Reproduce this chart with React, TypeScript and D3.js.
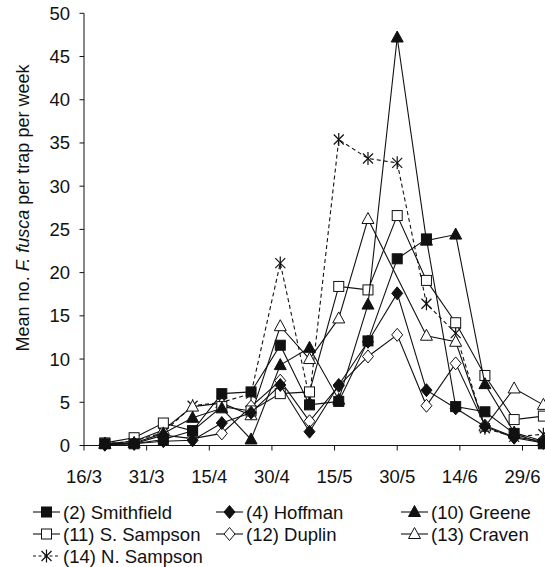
import React from 'react';
import * as d3 from 'd3';

const YEAR = 2003;
const sampleDates = ["21/3", "28/3", "4/4", "11/4", "18/4", "25/4", "2/5", "9/5", "16/5", "23/5", "30/5", "6/6", "13/6", "20/6", "27/6", "4/7"];
const tickLabels = ["16/3", "31/3", "15/4", "30/4", "15/5", "30/5", "14/6", "29/6"];
const yTicks = [0, 5, 10, 15, 20, 25, 30, 35, 40, 45, 50];

const smithfield = [0.2, 0.2, 0.7, 1.7, 6.0, 6.2, 11.6, 4.7, 5.1, 12.1, 21.6, 23.9, 4.5, 3.9, 1.4, 0.2];
const hoffman = [0.1, 0.2, 0.5, 0.6, 2.6, 3.8, 7.0, 1.6, 7.0, 12.0, 17.6, 6.4, 4.3, 2.2, 0.9, 0.3];
const greene = [0.2, 0.3, 1.4, 3.2, 4.3, 0.7, 9.3, 11.3, 5.3, 16.3, 47.2, 23.7, 24.4, 7.1, 1.5, 0.5];
const sSampson = [0.3, 0.9, 2.6, 1.7, 4.5, 4.0, 6.0, 6.2, 18.4, 18.0, 26.6, 19.1, 14.2, 8.1, 3.0, 3.4];
const duplin = [0.1, 0.2, 1.2, 0.8, 1.4, 4.5, 7.5, 2.8, 6.9, 10.3, 12.8, 4.6, 9.5, 2.3, 1.0, 0.5];
const craven = [0.2, 0.5, 1.8, 4.5, 4.9, 3.5, 13.8, 10.0, 14.7, 26.2, null, 12.7, 12.0, 2.2, 6.6, 4.7];
const nSampson = [0.2, 0.5, 1.5, 4.6, 5.0, 6.0, 21.1, 5.5, 35.4, 33.2, 32.7, 16.4, 13.0, 2.0, 1.0, 1.3];

type Marker = 'square' | 'diamond' | 'triangle' | 'star';
interface Series { name: string; values: (number | null)[]; marker: Marker; filled: boolean; dashed: boolean; }

const series: Series[] = [
  { name: "(2) Smithfield", values: smithfield, marker: 'square', filled: true, dashed: false },
  { name: "(4) Hoffman", values: hoffman, marker: 'diamond', filled: true, dashed: false },
  { name: "(10) Greene", values: greene, marker: 'triangle', filled: true, dashed: false },
  { name: "(11) S. Sampson", values: sSampson, marker: 'square', filled: false, dashed: false },
  { name: "(12) Duplin", values: duplin, marker: 'diamond', filled: false, dashed: false },
  { name: "(13) Craven", values: craven, marker: 'triangle', filled: false, dashed: false },
  { name: "(14) N. Sampson", values: nSampson, marker: 'star', filled: false, dashed: true },
];

const parse = (s: string) => {
  const [d, m] = s.split('/').map(Number);
  return new Date(Date.UTC(YEAR, m - 1, d));
};

const FONT = "'Liberation Sans', Arial, Helvetica, sans-serif";

function MarkerShape({ type, filled, cx, cy }: { type: Marker; filled: boolean; cx: number; cy: number }) {
  const fill = filled ? '#111' : '#fff';
  const stroke = '#111';
  if (type === 'square') {
    return <rect x={cx - 5} y={cy - 5} width={10} height={10} fill={fill} stroke={stroke} strokeWidth={1} />;
  }
  if (type === 'diamond') {
    const pts = `${cx},${cy - 6.5} ${cx + 5.5},${cy} ${cx},${cy + 6.5} ${cx - 5.5},${cy}`;
    return <polygon points={pts} fill={fill} stroke={stroke} strokeWidth={1} />;
  }
  if (type === 'triangle') {
    const pts = `${cx},${cy - 6.5} ${cx + 6},${cy + 4.5} ${cx - 6},${cy + 4.5}`;
    return <polygon points={pts} fill={fill} stroke={stroke} strokeWidth={1} />;
  }
  return (
    <g stroke={stroke} strokeWidth={1.2}>
      <line x1={cx - 5} y1={cy - 5} x2={cx + 5} y2={cy + 5} />
      <line x1={cx - 5} y1={cy + 5} x2={cx + 5} y2={cy - 5} />
      <line x1={cx} y1={cy - 6.5} x2={cx} y2={cy + 6.5} />
    </g>
  );
}

export default function App() {
  const W = 545, H = 567;
  const x = d3.scaleUtc().domain([parse("16/3"), parse("29/6")]).range([84, 522.5]);
  const y = d3.scaleLinear().domain([0, 50]).range([445.5, 13.3]);
  const dates = sampleDates.map(parse);

  const lineGen = d3.line<{ d: Date; v: number }>().x(p => x(p.d)).y(p => y(p.v));

  const drawOrder = [...series].reverse();

  const legendCols = [33, 216, 401];
  const legendRows = [512, 534, 556];

  return (
    <svg width={W} height={H} style={{ position: 'absolute', left: 0, top: 0, background: '#fff' }} fontFamily={FONT}>
      <rect x={0} y={0} width={W} height={H} fill="#fff" />
      {/* axes */}
      <line x1={x.range()[0]} y1={y(50)} x2={x.range()[0]} y2={y(0)} stroke="#111" strokeWidth={1} />
      <line x1={x.range()[0]} y1={y(0)} x2={W} y2={y(0)} stroke="#111" strokeWidth={1} />
      {yTicks.map(t => (
        <g key={t}>
          <line x1={x.range()[0] - 4.5} x2={x.range()[0]} y1={y(t)} y2={y(t)} stroke="#111" />
          <text x={70} y={y(t) + 6.5} textAnchor="end" fontSize={18.5} fill="#111">{t}</text>
        </g>
      ))}
      {tickLabels.map(t => (
        <g key={t}>
          <line x1={x(parse(t))} x2={x(parse(t))} y1={y(0)} y2={y(0) + 5} stroke="#111" />
          <text x={x(parse(t))} y={482.5} textAnchor="middle" fontSize={18.5} fill="#111">{t}</text>
        </g>
      ))}
      <text transform="rotate(-90)" x={-208} y={28.5} textAnchor="middle" fontSize={18} fill="#111">
        Mean no. <tspan fontStyle="italic">F. fusca</tspan> per trap per week
      </text>
      {/* series */}
      {drawOrder.map(s => {
        const pts = s.values
          .map((v, i) => ({ d: dates[i], v }))
          .filter(p => p.v !== null) as { d: Date; v: number }[];
        return (
          <g key={s.name}>
            <path d={lineGen(pts) || ''} fill="none" stroke="#111" strokeWidth={1.1}
              strokeDasharray={s.dashed ? '4,3' : undefined} />
            {pts.map((p, i) => (
              <MarkerShape key={i} type={s.marker} filled={s.filled} cx={x(p.d)} cy={y(p.v)} />
            ))}
          </g>
        );
      })}
      {/* legend */}
      {series.map((s, i) => {
        const cx = legendCols[i % 3];
        const cy = legendRows[Math.floor(i / 3)];
        return (
          <g key={s.name}>
            <line x1={cx} x2={cx + 27} y1={cy} y2={cy} stroke="#111" strokeWidth={1.1}
              strokeDasharray={s.dashed ? '3,2.5' : undefined} />
            <MarkerShape type={s.marker} filled={s.filled} cx={cx + 13.5} cy={cy} />
            <text x={cx + 30} y={cy + 6.5} fontSize={18.5} fill="#111">{s.name}</text>
          </g>
        );
      })}
    </svg>
  );
}
